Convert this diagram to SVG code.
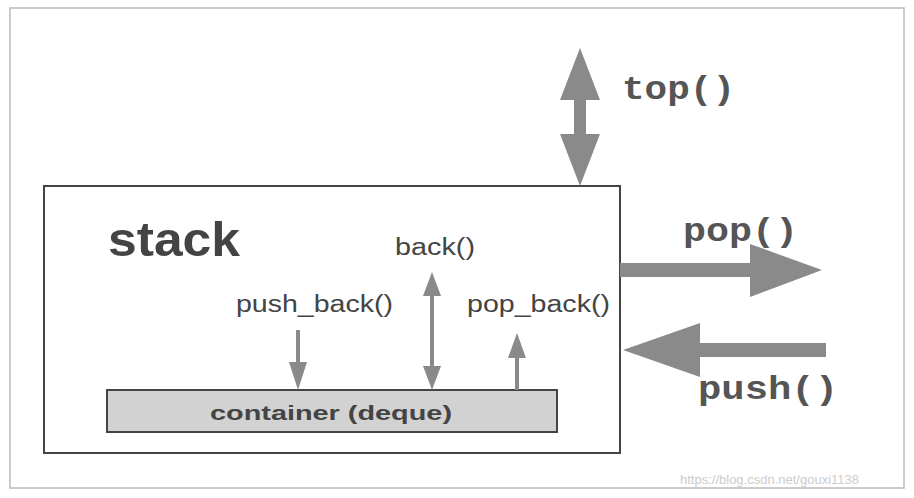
<svg xmlns="http://www.w3.org/2000/svg" width="914" height="498" viewBox="0 0 914 498">
<style>
.sans{font-family:"Liberation Sans",Arial,sans-serif;fill:#444}
.mono{font-family:"Liberation Mono","Courier New",monospace;font-weight:bold;fill:#555;font-size:34px}
.arr{fill:#8a8a8a}
</style>
<rect x="0" y="0" width="914" height="498" fill="#fff"/>
<rect x="10" y="8" width="894" height="480" fill="none" stroke="#bbb" stroke-width="1.5"/>
<g id="stack">
<rect x="44" y="186" width="576" height="267" fill="#fff" stroke="#444" stroke-width="2"/>
<text x="108" y="256" class="sans" font-size="48" font-weight="bold" textLength="132" lengthAdjust="spacingAndGlyphs">stack</text>
</g>
<g id="container">
<rect x="107" y="390" width="450" height="42" fill="#d2d2d2" stroke="#444" stroke-width="2"/>
<text x="210" y="420" class="sans" font-size="21" font-weight="bold" textLength="242" lengthAdjust="spacingAndGlyphs">container (deque)</text>
</g>
<g id="labels">
<text x="395" y="255" class="sans" font-size="23" textLength="80" lengthAdjust="spacingAndGlyphs">back()</text>
<text x="236" y="312" class="sans" font-size="23" textLength="157" lengthAdjust="spacingAndGlyphs">push_back()</text>
<text x="467" y="312" class="sans" font-size="23" textLength="143" lengthAdjust="spacingAndGlyphs">pop_back()</text>
<text x="622" y="99" class="mono" textLength="113" lengthAdjust="spacingAndGlyphs">top()</text>
<text x="683" y="241" class="mono" textLength="115" lengthAdjust="spacingAndGlyphs">pop()</text>
<text x="698" y="399" class="mono" textLength="140" lengthAdjust="spacingAndGlyphs">push()</text>
<text x="680" y="484" font-family="Liberation Sans,Arial,sans-serif" font-size="13" fill="#ccc">https://blog.csdn.net/gouxi1138</text>
</g>
<g id="connectors" class="arr">
<polygon points="580,48 600,100 586,100 586,134 600,134 580,186 560,134 574,134 574,100 560,100"/>
<polygon points="620,263 750,263 750,244 822,270 750,297 750,277 620,277"/>
<polygon points="826,343 700,343 700,323 623,350 700,377 700,357 826,357"/>
<polygon points="296,330 300,330 300,362 307,362 298,390 289,362 296,362"/>
<polygon points="432,272 441,296 434,296 434,366 441,366 432,390 423,366 430,366 430,296 423,296"/>
<polygon points="517,333 526,358 519,358 519,390 515,390 515,358 508,358"/>
</g>
</svg>
